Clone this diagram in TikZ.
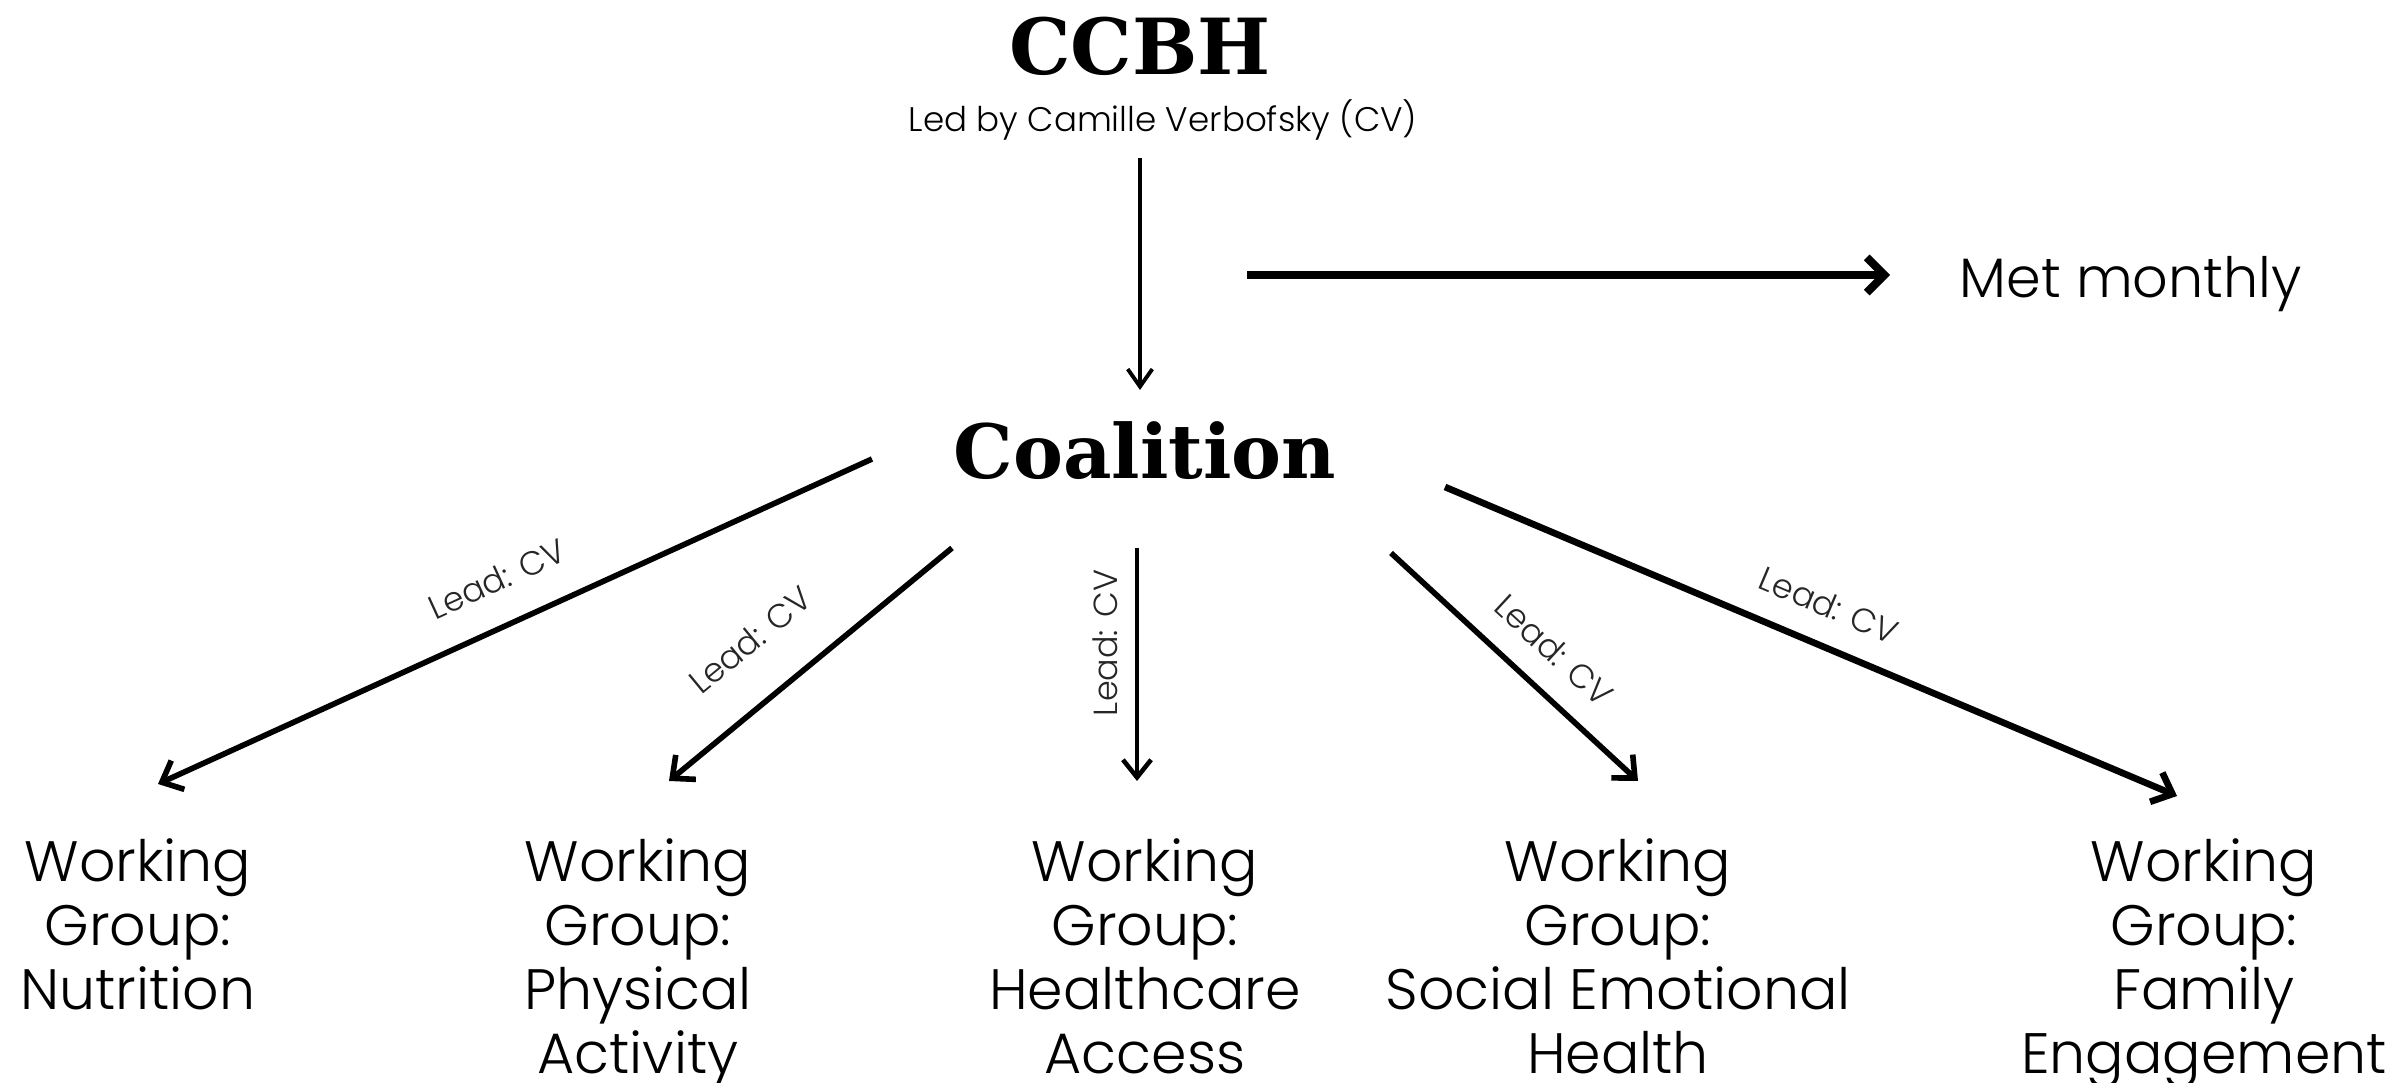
\documentclass[tikz,border=0pt]{standalone}
\usepackage{fontspec}
\setmainfont{Poppins}[UprightFont=* Light]
\newfontfamily\slabfont{DejaVu Serif}[UprightFont=* Bold]
\usetikzlibrary{arrows.meta}
\begin{document}
\begin{tikzpicture}[x=0.01cm,y=-0.01cm,
  title/.style={font=\slabfont\fontsize{22}{24}\selectfont, inner sep=0pt},
  wg/.style={font=\fontsize{16.2}{18.2}\selectfont, align=center, anchor=north, inner sep=0pt},
  leadlbl/.style={font=\fontsize{9.5}{11}\selectfont, inner sep=0pt, text=black!85},
  arr/.style={line width=1.6pt, -{Straight Barb[length=5pt,width=9pt,line width=1.6pt]}}
]
\useasboundingbox[fill=white] (0,0) rectangle (2400,1083);

% header
\node[title, anchor=base] (ccbh) at (1140,75) {CCBH};
\node[font=\fontsize{9.7}{12}\selectfont, anchor=base, inner sep=0pt] (led) at (1163,132) {Led by Camille Verbofsky (CV)};
\node[title, font=\slabfont\fontsize{21.3}{24}\selectfont, anchor=base] (coal) at (1145,479) {Coalition};
\node[font=\fontsize{15.8}{20}\selectfont, anchor=base west, inner sep=0pt] (met) at (1959,298) {Met monthly};

% working groups
\node[wg] (wg1) at (138,838) {Working\\Group:\\Nutrition};
\node[wg] (wg2) at (638,838) {Working\\Group:\\Physical\\Activity};
\node[wg] (wg3) at (1145,838) {Working\\Group:\\Healthcare\\Access};
\node[wg] (wg4) at (1618,838) {Working\\Group:\\Social Emotional\\Health};
\node[wg] (wg5) at (2204,838) {Working\\Group:\\Family\\Engagement};

% connector end points
\coordinate (a0s) at (1140,158);
\coordinate (a0e) at (1140,390);
\coordinate (hs) at (1247,275);
\coordinate (he) at (1890,275);
\coordinate (a1s) at (872,459);  \coordinate (a1e) at (158,784);
\coordinate (a2s) at (952,548);  \coordinate (a2e) at (669,781);
\coordinate (a3s) at (1137,548); \coordinate (a3e) at (1137,781);
\coordinate (a4s) at (1391,553); \coordinate (a4e) at (1638,781);
\coordinate (a5s) at (1445,487); \coordinate (a5e) at (2177,796);

\draw[line width=1.1pt, -{Straight Barb[length=5pt,width=7pt,line width=1.1pt]}] (a0s) -- (a0e);
\draw[line width=2.3pt, -{Straight Barb[length=5pt,width=10pt,line width=2.3pt]}] (hs) -- (he);

\draw[arr] (a1s) -- (a1e);
\draw[arr] (a2s) -- (a2e);
\draw[arr, line width=1.3pt, -{Straight Barb[length=5pt,width=8pt,line width=1.3pt]}] (a3s) -- (a3e);
\draw[arr] (a4s) -- (a4e);
\draw[arr, line width=1.9pt, -{Straight Barb[length=5pt,width=9pt,line width=1.9pt]}] (a5s) -- (a5e);

% labels
\node[leadlbl, rotate=24.5] (l1) at (497,579) {Lead: CV};
\node[leadlbl, rotate=39.5] (l2) at (750,640) {Lead: CV};
\node[leadlbl, rotate=90]   (l3) at (1105,643) {Lead: CV};
\node[leadlbl, rotate=-42.7] (l4) at (1554,650) {Lead: CV};
\node[leadlbl, rotate=-22.9] (l5) at (1829,605) {Lead: CV};
\end{tikzpicture}
\end{document}
